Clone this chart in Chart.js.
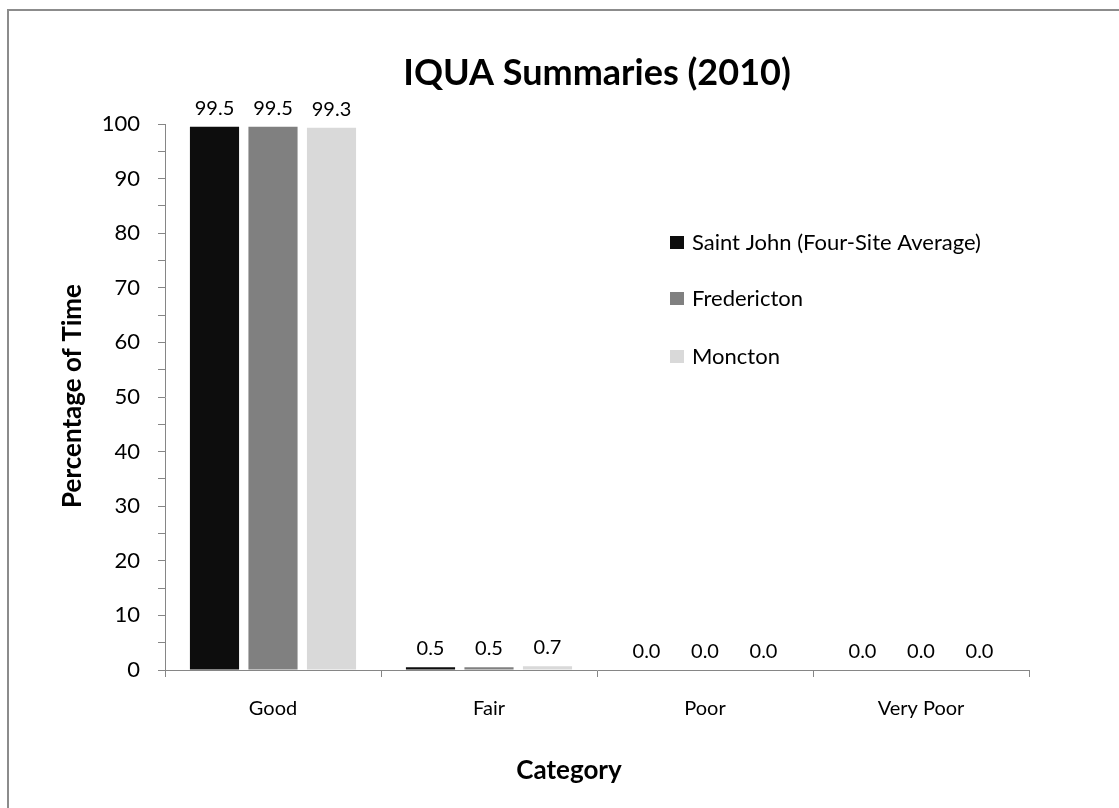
<!DOCTYPE html>
<html><head><meta charset="utf-8">
<script src="https://cdn.jsdelivr.net/npm/chart.js@4.4.1/dist/chart.umd.min.js"></script>
<style>
html,body{margin:0;padding:0;background:#fff;overflow:hidden}
#wrap{position:relative;width:1119px;height:808px}
#frame{position:absolute;left:7px;top:9px;width:1200px;height:900px;border:2px solid #8c8c8c;box-sizing:border-box}
canvas{position:absolute;left:0;top:0}
</style></head>
<body><div id="wrap"><div id="frame"></div><canvas id="c" width="1119" height="808"></canvas></div>
<script>
const categories = ['Good', 'Fair', 'Poor', 'Very Poor'];
const seriesNames = ['Saint John (Four-Site Average)', 'Fredericton', 'Moncton'];
const saintJohn = [99.5, 0.5, 0.0, 0.0];
const fredericton = [99.5, 0.5, 0.0, 0.0];
const moncton = [99.3, 0.7, 0.0, 0.0];
const seriesColors = ['#0d0d0d', '#808080', '#d9d9d9'];
const yTickLabels = [0,10,20,30,40,50,60,70,80,90,100];

const FONT = "Lato, 'Liberation Sans', sans-serif";

const plotLeft = 165, plotRight = 1029, plotTop = 124, plotBottom = 670;

const overlay = {
  id: 'overlay',
  afterDatasetsDraw(chart) {
    const ctx = chart.ctx;
    const ca = chart.chartArea;
    ctx.save();
    // data labels
    ctx.fillStyle = '#000';
    ctx.font = "20px " + FONT;
    ctx.textAlign = 'center';
    ctx.textBaseline = 'alphabetic';
    chart.data.datasets.forEach((ds, i) => {
      const meta = chart.getDatasetMeta(i);
      meta.data.forEach((bar, j) => {
        ctx.fillText(ds.data[j].toFixed(1), bar.x, bar.y - 12);
      });
    });
    // title
    ctx.font = "bold 36px " + FONT;
    ctx.fillText('IQUA Summaries (2010)', (ca.left + ca.right) / 2, 85);
    // x title
    ctx.font = "bold 26px " + FONT;
    ctx.textBaseline = 'middle';
    ctx.fillText('Category', 569, 771);
    // y title
    ctx.save();
    ctx.translate(73, 396);
    ctx.rotate(-Math.PI / 2);
    ctx.fillText('Percentage of Time', 0, 0);
    ctx.restore();
    // legend
    ctx.textAlign = 'left';
    ctx.font = "22px " + FONT;
    const ly = [242, 298, 356];
    chart.data.datasets.forEach((ds, i) => {
      ctx.fillStyle = ds.backgroundColor;
      ctx.fillRect(670, ly[i] - 6, 14, 13);
      ctx.fillStyle = '#000';
      ctx.fillText(ds.label, 692, ly[i] + 1);
    });
    ctx.restore();
  }
};

new Chart(document.getElementById('c'), {
  type: 'bar',
  data: {
    labels: categories,
    datasets: [
      { label: seriesNames[0], data: saintJohn, backgroundColor: seriesColors[0] },
      { label: seriesNames[1], data: fredericton, backgroundColor: seriesColors[1] },
      { label: seriesNames[2], data: moncton, backgroundColor: seriesColors[2] }
    ]
  },
  options: {
    responsive: false,
    animation: false,
    devicePixelRatio: 1,
    layout: { padding: { top: plotTop, right: 1119 - plotRight, left: 0, bottom: 0 } },
    datasets: { bar: { categoryPercentage: 0.8125, barPercentage: 0.84 } },
    plugins: { legend: { display: false }, tooltip: { enabled: false }, title: { display: false } },
    scales: {
      x: {
        afterFit(s) { s.height = 808 - plotBottom; },
        grid: { offset: true, drawOnChartArea: false, drawTicks: true, tickLength: 7, color: '#868686', lineWidth: 1 },
        border: { color: '#868686', width: 1 },
        ticks: { color: '#000', font: { family: FONT, size: 20 }, padding: 20 }
      },
      y: {
        min: 0, max: 100,
        afterFit(s) { s.width = plotLeft; },
        afterBuildTicks(s) {
          const t = [];
          for (let v = 0; v <= 100; v += 5) t.push({ value: v });
          s.ticks = t;
        },
        grid: { drawOnChartArea: false, drawTicks: true, tickLength: 7, color: '#868686', lineWidth: 1 },
        border: { color: '#868686', width: 1 },
        ticks: {
          color: '#000', font: { family: FONT, size: 22 }, padding: 18, autoSkip: false,
          callback: (v) => yTickLabels.includes(v) ? String(v) : ''
        }
      }
    }
  },
  plugins: [overlay]
});
</script></body></html>
